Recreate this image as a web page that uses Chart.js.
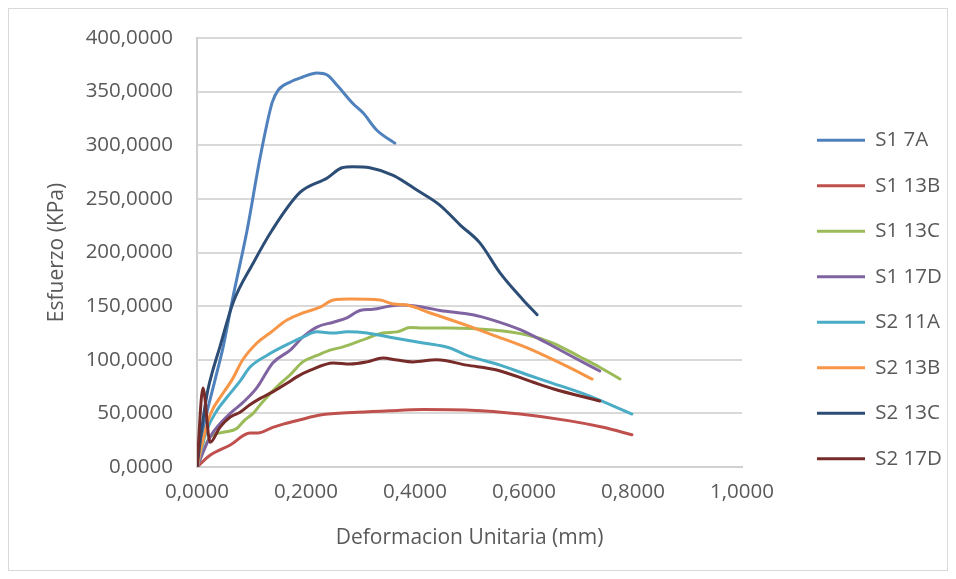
<!DOCTYPE html>
<html>
<head>
<meta charset="utf-8">
<script src="https://cdn.jsdelivr.net/npm/chart.js@4.4.0/dist/chart.umd.min.js"></script>
<style>
  html, body { margin: 0; padding: 0; background: #fff; }
  #wrap { position: relative; width: 956px; height: 579px; }
  #frame { position: absolute; left: 8px; top: 8px; width: 938px; height: 561px; border: 1px solid #d9d9d9; }
  #chartCanvas { position: absolute; left: 0; top: 0; }
</style>
</head>
<body>
<div id="wrap">
  <div id="frame"></div>
  <canvas id="chartCanvas" width="956" height="579"></canvas>
</div>
<script>
// datos (deformacion unitaria, esfuerzo)
const seriesNames = ["S1 7A", "S1 13B", "S1 13C", "S1 17D", "S2 11A", "S2 13B", "S2 13C", "S2 17D"];
const seriesColors = ["#4F81BD", "#C0504D", "#9BBB59", "#8064A2", "#4BACC6", "#F79646", "#2C4D75", "#772C2A"];

const s1_7A_x = [0, 0.011, 0.033, 0.048, 0.066, 0.092, 0.116, 0.138, 0.149, 0.171, 0.194, 0.220, 0.239, 0.257, 0.286, 0.305, 0.330, 0.363];
const s1_7A_y = [0, 34.5, 81, 112, 158.5, 221, 289, 340, 351.5, 359, 363.6, 367.4, 365.5, 356, 339, 330, 314, 302];

const s1_13B_x = [0, 0.024, 0.061, 0.097, 0.112, 0.139, 0.158, 0.189, 0.226, 0.294, 0.354, 0.415, 0.501, 0.593, 0.684, 0.745, 0.798];
const s1_13B_y = [0, 11, 20.5, 31.7, 31.7, 37, 40, 44, 48.5, 51, 52.5, 53.5, 53, 49.4, 43, 37, 30];

const s1_13C_x = [0, 0.024, 0.051, 0.073, 0.088, 0.103, 0.119, 0.147, 0.171, 0.194, 0.220, 0.244, 0.268, 0.312, 0.341, 0.367, 0.391, 0.415, 0.464, 0.543, 0.606, 0.653, 0.703, 0.739, 0.776];
const s1_13C_y = [0, 28, 32.6, 36, 44, 50, 60, 75, 86, 98, 104, 109, 112, 120, 125, 126, 130, 129.6, 129.6, 127.7, 123, 115.6, 102.6, 93, 82];

const s1_17D_x = [0, 0.024, 0.061, 0.084, 0.110, 0.139, 0.171, 0.194, 0.220, 0.250, 0.275, 0.299, 0.323, 0.354, 0.378, 0.415, 0.446, 0.506, 0.543, 0.593, 0.642, 0.690, 0.739];
const s1_17D_y = [0, 28, 50, 60, 74, 97, 109, 121, 130.5, 135, 139, 146, 147, 150, 151, 149, 146, 142, 137, 128, 115.6, 102.6, 89.5];

const s2_11A_x = [0, 0.018, 0.037, 0.055, 0.079, 0.097, 0.128, 0.171, 0.194, 0.220, 0.250, 0.275, 0.312, 0.354, 0.415, 0.464, 0.495, 0.556, 0.606, 0.653, 0.716, 0.798];
const s2_11A_y = [0, 34.5, 53, 65, 80, 93, 104, 115.6, 121, 126, 125, 126, 125, 121, 115.6, 111, 104, 95, 86, 78, 67, 49.4];

const s2_13B_x = [0, 0.011, 0.024, 0.048, 0.064, 0.084, 0.110, 0.134, 0.165, 0.194, 0.226, 0.250, 0.281, 0.336, 0.360, 0.385, 0.428, 0.495, 0.543, 0.606, 0.666, 0.725];
const s2_13B_y = [0, 25, 48.5, 69, 81, 100, 115.6, 125, 137, 143.6, 149, 155.7, 156.6, 155.7, 152, 151, 143.6, 132, 123, 111, 97, 82];

const s2_13C_x = [0, 0.011, 0.020, 0.029, 0.042, 0.066, 0.103, 0.138, 0.189, 0.239, 0.266, 0.286, 0.317, 0.360, 0.404, 0.446, 0.483, 0.519, 0.556, 0.598, 0.624];
const s2_13C_y = [0, 44, 72, 90, 112, 153, 190, 221, 256, 269.5, 279, 280, 279, 272, 258, 244, 225.6, 209, 181, 156, 142];

const s2_17D_x = [0, 0.011, 0.024, 0.042, 0.061, 0.079, 0.097, 0.116, 0.139, 0.165, 0.183, 0.207, 0.250, 0.281, 0.312, 0.341, 0.367, 0.396, 0.440, 0.495, 0.550, 0.617, 0.653, 0.739];
const s2_17D_y = [0, 73.7, 23, 37, 46.6, 51, 58, 64, 70, 78, 84, 90, 97, 96, 98, 101.6, 99.8, 98, 100, 95, 90.5, 79, 73, 61.5];

const xSeries = [s1_7A_x, s1_13B_x, s1_13C_x, s1_17D_x, s2_11A_x, s2_13B_x, s2_13C_x, s2_17D_x];
const ySeries = [s1_7A_y, s1_13B_y, s1_13C_y, s1_17D_y, s2_11A_y, s2_13B_y, s2_13C_y, s2_17D_y];

const yMin = 0, yMax = 400, yStep = 50;
const xMin = 0, xMax = 1, xStep = 0.2;

const textColor = "#595959";
const fontFamily = "'Open Sans', sans-serif";

function formato(v) {
  return Number(v).toFixed(4).replace(".", ",");
}

const datasets = seriesNames.map((nombre, i) => ({
  label: nombre,
  data: xSeries[i].map((x, k) => ({ x: x, y: ySeries[i][k] })),
  borderColor: seriesColors[i],
  backgroundColor: seriesColors[i],
  borderWidth: 3,
  pointRadius: 0,
  fill: false,
  cubicInterpolationMode: "monotone",
  borderCapStyle: "round",
  borderJoinStyle: "round",
  order: seriesNames.length - 1 - i
}));

// ajusta ancho y posicion de la leyenda
const leyendaPlugin = {
  id: "leyendaFija",
  beforeInit(chart) {
    const fitOriginal = chart.legend.fit;
    chart.legend.fit = function () {
      fitOriginal.call(this);
      this.width = 956 - 742;
    };
  },
  afterLayout(chart) {
    const lg = chart.legend;
    const h = lg.bottom - lg.top;
    lg.left = 792;
    lg.right = 956;
    lg.top = 140 - 10 - 25;
    lg.bottom = lg.top + h;
  }
};

let chart;
function inicializarGrafica() {
  const ctx = document.getElementById("chartCanvas").getContext("2d");
  chart = new Chart(ctx, {
    type: "line",
    data: { datasets: datasets },
    options: {
      responsive: false,
      animation: false,
      layout: { padding: { top: 38, right: 0, bottom: 0, left: 0 } },
      plugins: {
        tooltip: { enabled: false },
        legend: {
          position: "right",
          align: "start",
          labels: {
            usePointStyle: true,
            pointStyle: "line",
            pointStyleWidth: 48,
            padding: 25,
            color: textColor,
            font: { family: fontFamily, size: 20.5 },
            sort: (a, b) => a.datasetIndex - b.datasetIndex
          }
        }
      },
      scales: {
        x: {
          type: "linear",
          min: xMin,
          max: xMax,
          grid: { display: false, drawTicks: false },
          border: { display: true, color: "#d0d0d0", width: 2 },
          ticks: {
            stepSize: xStep,
            padding: 13,
            color: textColor,
            font: { family: fontFamily, size: 20.5 },
            callback: (v) => formato(v)
          },
          title: {
            display: true,
            text: "Deformacion Unitaria (mm)",
            color: textColor,
            font: { family: fontFamily, size: 21 },
            padding: { top: 0, bottom: 28 }
          },
          afterFit(scale) { scale.height = 579 - 467; }
        },
        y: {
          type: "linear",
          min: yMin,
          max: yMax,
          grid: { color: "#d9d9d9", lineWidth: 2, drawTicks: false },
          border: { display: true, color: "#d0d0d0", width: 2 },
          ticks: {
            stepSize: yStep,
            padding: 24,
            color: textColor,
            font: { family: fontFamily, size: 20.5 },
            callback: (v) => formato(v)
          },
          title: {
            display: true,
            text: "Esfuerzo (KPa)",
            color: textColor,
            font: { family: fontFamily, size: 21 },
            padding: { top: 44, bottom: 0 }
          },
          afterFit(scale) { scale.width = 197; }
        }
      }
    },
    plugins: [leyendaPlugin]
  });
}

window.addEventListener("DOMContentLoaded", () => {
  inicializarGrafica();
});
</script>
</body>
</html>
